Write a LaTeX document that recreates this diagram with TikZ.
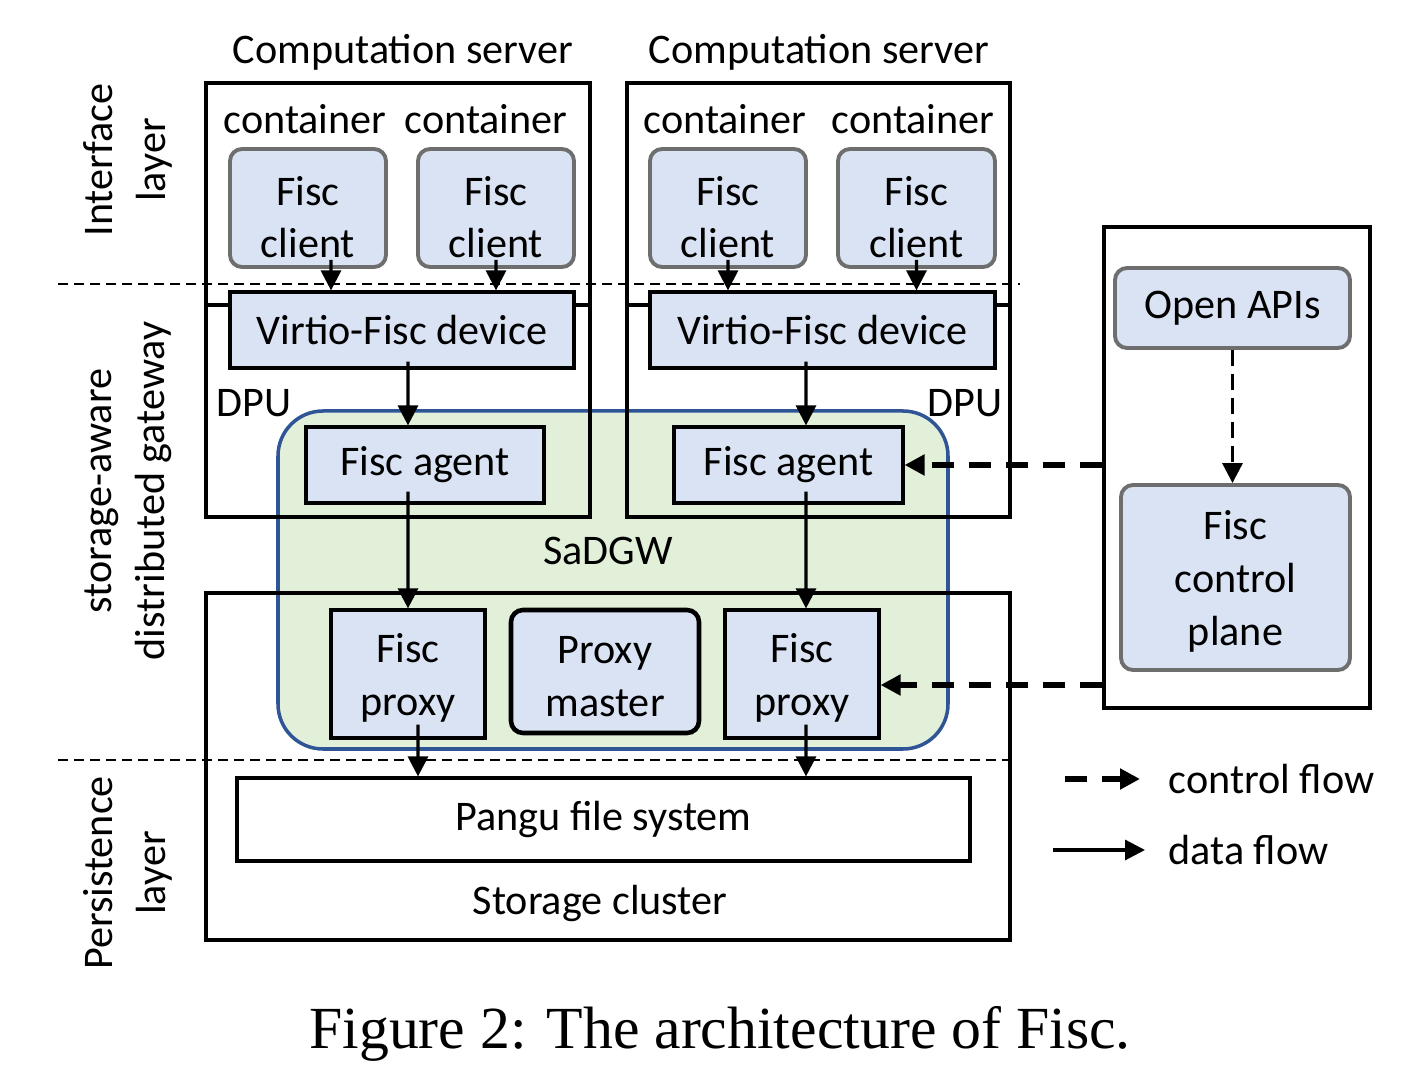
\documentclass[tikz,border=0pt]{standalone}
\usepackage{fontspec}
\setmainfont{Carlito}
\newfontfamily\captionfont{Liberation Serif}
\usetikzlibrary{arrows.meta, positioning, calc}
\definecolor{partblue}{HTML}{DAE3F3}
\definecolor{gwgreen}{HTML}{E2F0D9}
\definecolor{gwblue}{HTML}{2F5597}
\definecolor{clientgray}{HTML}{6E6E6E}
\newcommand{\uproom}[1]{\rule{0pt}{#1}}
\tikzset{
  frame/.style={rectangle, draw=black, line width=0.9pt, inner sep=0pt},
  part/.style={frame, fill=partblue, align=center, font=\fontsize{12}{15}\selectfont},
  client/.style={part, draw=clientgray, line width=1.1pt, rounded corners=1.2mm},
  master/.style={part, line width=1.3pt, rounded corners=1.2mm},
  gateway/.style={rectangle, draw=gwblue, fill=gwgreen, line width=1pt, rounded corners=4.5mm},
  lbl/.style={font=\fontsize{12}{15}\selectfont, inner sep=0pt, align=center},
  data/.style={-{Triangle[length=2mm,width=2mm]}, line width=0.9pt},
  ctrl/.style={-{Triangle[length=2mm,width=2mm]}, line width=1.6pt, dash pattern=on 2.2mm off 1.5mm},
  apictrl/.style={-{Triangle[length=2mm,width=2mm]}, line width=0.9pt, dash pattern=on 1.6mm off 0.8mm},
  layersep/.style={line width=0.7pt, dash pattern=on 1mm off 0.6mm}
}

\begin{document}
\begin{tikzpicture}
    \useasboundingbox (0,0) rectangle (14.25,-10.66);
    
    % SaDGW
    \node[gateway, minimum width=6.70cm, minimum height=3.38cm] (gw) at (6.13,-5.80) {};
    \node[lbl] (gwname) at (6.08,-5.51) {SaDGW};
    
    % Computation servers
    \node[frame, minimum width=3.84cm, minimum height=4.34cm] (srvL) at (3.98,-3.00) {};
    \node[frame, minimum width=3.83cm, minimum height=4.34cm] (srvR) at (8.185,-3.00) {};
    \node[frame, minimum width=3.84cm, minimum height=2.12cm] (dpuL) at (3.98,-4.11) {};
    \node[frame, minimum width=3.83cm, minimum height=2.12cm] (dpuR) at (8.185,-4.11) {};
    \node[lbl] (srvLname) at (4.03,-0.52) {Computation server};
    \node[lbl] (srvRname) at (8.19,-0.52) {Computation server};
    \node[lbl] (ctn1) at (3.05,-1.19) {container};
    \node[lbl] (ctn2) at (4.86,-1.19) {container};
    \node[lbl] (ctn3) at (7.25,-1.19) {container};
    \node[lbl] (ctn4) at (9.13,-1.19) {container};
    \node[lbl] (dpuLname) at (2.54,-4.03) {DPU};
    \node[lbl] (dpuRname) at (9.65,-4.03) {DPU};
    
    \node[client, minimum width=1.56cm, minimum height=1.18cm] (cl1) at (3.08,-2.08) {\uproom{13.5pt}Fisc\\client};
    \node[client, minimum width=1.56cm, minimum height=1.18cm] (cl2) at (4.96,-2.08) {\uproom{13.5pt}Fisc\\client};
    \node[client, minimum width=1.56cm, minimum height=1.18cm] (cl3) at (7.28,-2.08) {\uproom{13.5pt}Fisc\\client};
    \node[client, minimum width=1.57cm, minimum height=1.18cm] (cl4) at (9.165,-2.08) {\uproom{13.5pt}Fisc\\client};
    
    \node[part, minimum width=3.44cm, minimum height=0.76cm] (vf1) at (4.02,-3.30) {Virtio-Fisc device};
    \node[part, minimum width=3.45cm, minimum height=0.76cm] (vf2) at (8.225,-3.30) {Virtio-Fisc device};
    
    \node[part, minimum width=2.38cm, minimum height=0.76cm] (ag1) at (4.25,-4.65) {Fisc agent};
    \node[part, minimum width=2.29cm, minimum height=0.76cm] (ag2) at (7.885,-4.65) {Fisc agent};
    
    % Storage cluster
    \node[frame, minimum width=8.04cm, minimum height=3.47cm] (stor) at (6.08,-7.665) {};
    \node[part, minimum width=1.54cm, minimum height=1.28cm] (px1) at (4.08,-6.74) {\uproom{10.5pt}Fisc\\proxy};
    \node[master, minimum width=1.88cm, minimum height=1.23cm] (pm) at (6.05,-6.715) {\uproom{10.5pt}Proxy\\master};
    \node[part, minimum width=1.54cm, minimum height=1.28cm] (px2) at (8.02,-6.74) {\uproom{10.5pt}Fisc\\proxy};
    \node[frame, lbl, minimum width=7.33cm, minimum height=0.83cm] (pangu) at (6.035,-8.195) {Pangu file system};
    \node[lbl] (storname) at (6.00,-9.03) {Storage cluster};
    
    % Control plane
    \node[frame, minimum width=2.66cm, minimum height=4.81cm] (ctrl) at (12.37,-4.675) {};
    \node[client, minimum width=2.35cm, minimum height=0.80cm] (api) at (12.325,-3.08) {Open APIs};
    \node[client, minimum width=2.29cm, minimum height=1.85cm] (cp) at (12.355,-5.775) {\uproom{10.5pt}Fisc\\control\\plane};
    
    % Layers
    \coordinate (sepA) at (0.58,-2.84);
    \coordinate (sepB) at (0.58,-7.60);
    \draw[layersep] (sepA) -- ++(9.62,0);
    \draw[layersep] (sepB) -- ++(9.57,0);
    \node[lbl, rotate=90] (lyr1) at (1.28,-1.60) {Interface\\layer};
    \node[lbl, rotate=90] (lyr2) at (1.28,-4.91) {storage-aware\\distributed gateway};
    \node[lbl, rotate=90] (lyr3) at (1.28,-8.73) {Persistence\\layer};
    
    % Data flow
    \draw[data] ([xshift=2.3mm,yshift=0.9mm]cl1.south) -- ([xshift=-7.1mm]vf1.north);
    \draw[data] ([yshift=0.9mm]cl2.south) -- ([xshift=9.4mm]vf1.north);
    \draw[data] ([yshift=0.9mm]cl3.south) -- ([xshift=-9.45mm]vf2.north);
    \draw[data] ([yshift=0.9mm]cl4.south) -- ([xshift=9.4mm]vf2.north);
    \draw[data] ([xshift=0.6mm,yshift=0.8mm]vf1.south) -- ([xshift=-1.7mm]ag1.north);
    \draw[data] ([xshift=-1.65mm,yshift=0.8mm]vf2.south) -- ([xshift=1.75mm]ag2.north);
    \draw[data] ([xshift=-1.7mm,yshift=1.3mm]ag1.south) -- (px1.north);
    \draw[data] ([xshift=1.75mm,yshift=1.3mm]ag2.south) -- ([xshift=0.4mm]px2.north);
    \draw[data] ([xshift=1mm,yshift=1.5mm]px1.south) -- ([xshift=-18.55mm]pangu.north);
    \draw[data] ([xshift=0.4mm,yshift=1.5mm]px2.south) -- ([xshift=20.25mm]pangu.north);
    
    % Control flow
    \coordinate (px2in) at ([yshift=-1.1mm]px2.east);
    \draw[apictrl] (api.south) -- (api.south |- cp.north);
    \draw[ctrl] (ctrl.west |- ag2.east) -- (ag2.east);
    \draw[ctrl] (ctrl.west |- px2in) -- (px2in);
    
    % Legend
    \node[lbl, anchor=west] (lgctrl) at (11.68,-7.79) {control flow};
    \node[lbl, anchor=west] (lgdata) at (11.68,-8.50) {data flow};
    \coordinate (lgctrlA) at (10.65,-7.79);
    \coordinate (lgctrlB) at (11.40,-7.79);
    \coordinate (lgdataA) at (10.53,-8.50);
    \coordinate (lgdataB) at (11.45,-8.50);
    \draw[ctrl] (lgctrlA) -- (lgctrlB);
    \draw[data] (lgdataA) -- (lgdataB);
    
    \node[font=\captionfont\fontsize{17}{20}\selectfont, inner sep=0pt] (caption) at (7.20,-10.34) {Figure 2: The architecture of Fisc.};
\end{tikzpicture}
\end{document}
